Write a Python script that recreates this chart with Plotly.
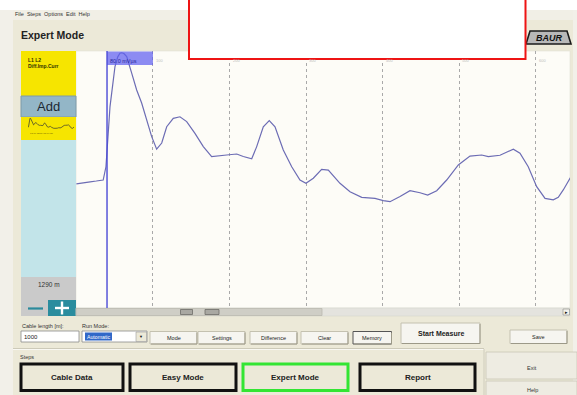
import plotly.graph_objects as go

# ---- trace data: impulse-current reflectogram ----
dist_m = [0, 10, 18, 26, 35, 38.6, 43.9, 50.4, 54.0, 56.9, 59.1, 62.0, 65.7, 72.2, 78.7, 85.2,
          91.8, 98.3, 104.8, 111.4, 117.9, 126.5, 135.2, 144.0, 154.8, 165.7, 176.6, 183.2,
          196.2, 209.3, 217.9, 228.9, 235.4, 244.0, 251.8, 259.3, 270.1, 281.1, 291.9,
          299.7, 309.3, 320.2, 328.9, 344.1, 357.2, 372.5, 389.8, 400.7, 409.4, 422.5,
          435.5, 448.6, 458.6, 470.4, 483.4, 498.6, 513.8, 529.1, 537.7, 553.0, 561.7,
          570.4, 579.1, 589.9, 600.9, 611.8, 622.6, 629.1, 635.6, 642.2, 645]
amplitude = [47.5, 47.8, 48.3, 48.6, 49.0, 54.2, 77.8, 93.5, 97.3, 98.7, 98.9, 98.6, 97.4,
             90.9, 84.3, 79.2, 72.5, 66.0, 61.1, 63.5, 69.9, 73.2, 73.8, 71.9, 67.3, 62.1,
             58.2, 58.5, 58.8, 59.2, 58.2, 57.3, 62.1, 69.9, 72.3, 69.9, 60.8, 54.2, 49.0,
             47.7, 49.7, 53.2, 52.9, 47.7, 44.4, 42.2, 41.8, 40.9, 40.5, 42.5, 44.8, 44.0,
             43.1, 44.8, 49.0, 54.9, 58.4, 58.8, 58.2, 58.7, 60.0, 61.1, 59.5, 54.2, 46.4,
             41.8, 41.2, 42.2, 45.1, 48.4, 50.0]

grid_m = [100, 200, 300, 400, 500, 600]
grid_labels = ["100", "200", "300", "400", "500", "600"]
cursor_m = 40
cursor_label = "80.0 mVµs"
cable_length_label = "1290 m"
channel_lines = ["L1 L2", "Diff.Imp.Curr"]

menu_items = "File  Steps  Options  Edit  Help"
tool_buttons = [("Mode", 150, 197), ("Settings", 198, 245), ("Difference", 250, 297),
                ("Clear", 301, 348)]
step_buttons = [("Cable Data", 21, 123, "#111111"), ("Easy Mode", 130, 236, "#111111"),
                ("Expert Mode", 243, 348, "#33E533"), ("Report", 360, 475, "#111111")]

W, H = 577, 395
FONT = "Liberation Sans"
PLOT_BG = "#FDFCF7"


def px(x):
    return x / W


def py(y):
    return 1 - y / H


shapes = []
annotations = []


def rect(x0, y0, x1, y1, fill=None, line=None, lw=1, layer="below"):
    shapes.append(dict(type="rect", xref="paper", yref="paper",
                       x0=px(x0), x1=px(x1), y0=py(y1), y1=py(y0),
                       fillcolor=fill or "rgba(0,0,0,0)",
                       line=dict(color=line or "rgba(0,0,0,0)", width=lw if line else 0),
                       layer=layer))


def seg(x0, y0, x1, y1, color, lw=1, layer="below", dash=None):
    ln = dict(color=color, width=lw)
    if dash:
        ln["dash"] = dash
    shapes.append(dict(type="line", xref="paper", yref="paper",
                       x0=px(x0), x1=px(x1), y0=py(y0), y1=py(y1), line=ln, layer=layer))


def text(x, y, s, size=6, color="#222222", bold=False, anchor="left", italic=False):
    if bold:
        s = f"<b>{s}</b>"
    if italic:
        s = f"<i>{s}</i>"
    annotations.append(dict(xref="paper", yref="paper", x=px(x), y=py(y), text=s,
                            showarrow=False, xanchor=anchor, yanchor="middle",
                            borderpad=0,
                            font=dict(size=size, color=color, family=FONT)))


def button(x0, y0, x1, y1, label, size=5.5, bold=False, border="#C4C1B0"):
    rect(x0, y0, x1, y1, fill="#F6F5F0", line=border, lw=1)
    seg(x0 + 1, y1, x1, y1, "#9C9988")
    seg(x1, y0 + 1, x1, y1, "#9C9988")
    text((x0 + x1) / 2, (y0 + y1) / 2, label, size=size, bold=bold, anchor="center")


# ---- window frame ----
rect(0, 0, W, 10, fill="#FFFFFF")
rect(13, 10, 573, H, fill="#ECE9D8")
rect(13, 10, 573, 20, fill="#F1EFE6")
text(14, 14.5, menu_items, size=5.5, color="#333333")
text(20, 35, "Expert Mode", size=10.5, bold=True, color="#222222")
# trace area background
rect(76, 51, 570, 308, fill=PLOT_BG, line="#E2E0D6", lw=0.6)

# BAUR logo
shapes.append(dict(type="path", xref="paper", yref="paper",
                   path=f"M {px(530)},{py(31)} L {px(567)},{py(31)} L {px(571)},{py(44)} "
                        f"L {px(526)},{py(44)} Z",
                   fillcolor="#B8B8B8", line=dict(color="#1A1A1A", width=1.6), layer="below"))
text(548.5, 37.8, "BAUR", size=9, bold=True, italic=True, color="#111111", anchor="center")

# ---- left channel panel ----
rect(21, 51, 76, 96, fill="#F6E500")
text(27, 60, channel_lines[0], size=5, bold=True, color="#333300")
text(27, 66, channel_lines[1], size=5, bold=True, color="#333300")
rect(21, 96, 76, 117, fill="#93B6C7", line="#7E9AA8", lw=1)
text(48.5, 106, "Add", size=13, color="#1B2733", anchor="center")
rect(21, 117, 76, 140, fill="#F6E500")
text(29, 133, "13.09.2007 13:04:56", size=2.5, color="#6A5A00")
rect(21, 140, 76, 277, fill="#C2E4E9")
rect(21, 277, 76, 316, fill="#CACACA")
text(48.5, 284.5, cable_length_label, size=6.5, color="#333333", anchor="center")
seg(28, 308.5, 43, 308.5, "#2B8A9C", lw=2.2)
rect(48, 300, 76, 316, fill="#2A8C9E")
seg(55, 308, 69, 308, "#FFFFFF", lw=2.4)
seg(62, 301.5, 62, 314.5, "#FFFFFF", lw=2.4)

# ---- scrollbar under the trace ----
rect(76, 308, 570, 316, fill="#E4E3DE", line="#D2D1CA", lw=0.5)
rect(76, 308.5, 322, 315.5, fill="#CFCEC6", line="#BAB9B0", lw=0.8)
rect(180.5, 309.5, 192.5, 314.5, fill="#A9A8A2", line="#6E6D68", lw=0.8)
rect(205, 309.5, 219, 314.5, fill="#A9A8A2", line="#6E6D68", lw=0.8)
rect(563, 309, 569.5, 315, fill="#F2F1EC", line="#8C8B84", lw=0.6)
text(566.3, 312, "▸", size=5, color="#111111", anchor="center")

# ---- measurement controls ----
text(21, 325.5, "Cable length [m]:", size=5.5, color="#333333")
text(81, 325.5, "Run Mode:", size=5.5, color="#333333")
rect(21, 331, 79, 342, fill="#FFFFFF", line="#8A8A8A", lw=0.8)
text(23, 336.5, "1000", size=6, color="#222222")
rect(82, 331, 147, 342, fill="#FFFFFF", line="#8A8A8A", lw=0.8)
rect(85, 332.5, 112, 340.5, fill="#3168C8")
text(86, 336.5, "Automatic", size=5.2, color="#FFFFFF")
rect(136, 332, 146.5, 341.5, fill="#ECE9D8", line="#9A9A9A", lw=0.6)
text(141.2, 336.7, "▼", size=4, color="#111111", anchor="center")
for label, bx0, bx1 in tool_buttons:
    button(bx0, 331.5, bx1, 344, label)
button(353, 331.5, 391.5, 344, "Memory", border="#555555")
button(401, 323, 480, 343.5, "Start Measure", size=7, bold=True)
button(510, 330, 567, 343.5, "Save")

# ---- steps group ----
seg(13, 348.5, 484, 348.5, "#CDCAB9", lw=1)
seg(13, 349.5, 484, 349.5, "#FFFFFF", lw=0.7)
text(19, 357, "Steps", size=5.5, color="#333333")
for label, bx0, bx1, col in step_buttons:
    rect(bx0, 364, bx1, 390.5, fill="#ECE9D8", line=col, lw=3)
    text((bx0 + bx1) / 2, 377.5, label, size=8, bold=True, color="#222222", anchor="center")
seg(484, 349, 484, H, "#CFCCBC", lw=1)
rect(486, 352, 577, 379, fill="#EEECE2", line="#C9C6B6", lw=0.8)
text(532, 367.5, "Exit", size=5.5, color="#333333", anchor="center")
rect(486, 381, 577, 398, fill="#EEECE2", line="#C9C6B6", lw=0.8)
text(532, 390, "Help", size=5.5, color="#333333", anchor="center")

# ---- overlays drawn on top of the trace area ----
shapes.append(dict(type="rect", xref="x", yref="paper", x0=cursor_m, x1=grid_m[0],
                   y0=py(65), y1=py(51.5), fillcolor="rgba(96,96,240,0.72)",
                   line=dict(width=0), layer="above"))
shapes.append(dict(type="line", xref="x", yref="paper", x0=cursor_m, x1=cursor_m,
                   y0=py(308), y1=py(51), line=dict(color="#4B4BD6", width=1.4),
                   layer="above"))
rect(189, -4, 525.5, 59, fill="#FFFFFF", line="#EE1414", lw=2, layer="above")

text(109, 61.5, cursor_label, size=5.5, color="#2A2A9A")
for gm, gl in zip(grid_m, grid_labels):
    annotations.append(dict(xref="x", yref="paper", x=gm, y=py(61), text=gl,
                            showarrow=False, xanchor="left", yanchor="middle", xshift=1,
                            font=dict(size=4, color="#BDBDBD", family=FONT)))

fig = go.Figure()
fig.add_trace(go.Scatter(x=dist_m, y=amplitude, mode="lines",
                         line=dict(color="#6C6CB4", width=1.2),
                         hoverinfo="skip", showlegend=False))
# thumbnail of the same trace in the channel panel
fig.add_trace(go.Scatter(x=dist_m, y=amplitude, mode="lines", xaxis="x2", yaxis="y2",
                         line=dict(color="#4A4A30", width=0.8),
                         hoverinfo="skip", showlegend=False))

fig.update_layout(
    width=W, height=H, margin=dict(l=0, r=0, t=0, b=0),
    paper_bgcolor="#F2F0E9", plot_bgcolor=PLOT_BG,
    xaxis=dict(domain=[px(76), px(570)], range=[-0.5, 644.4], tickvals=grid_m,
               showticklabels=False, ticks="", showgrid=True, gridcolor="#A9A9A9",
               gridwidth=1, griddash="dot", zeroline=False, showline=False, fixedrange=True),
    yaxis=dict(domain=[py(308), py(51)], range=[-1.2, 99.6], showticklabels=False,
               showgrid=False, zeroline=False, showline=False, ticks="", fixedrange=True),
    xaxis2=dict(domain=[px(28), px(74)], range=[30, 645], visible=False, anchor="y2"),
    yaxis2=dict(domain=[py(129), py(118)], range=[38, 100], visible=False, anchor="x2"),
    shapes=shapes, annotations=annotations, showlegend=False,
)

fig.write_html("out.html")
